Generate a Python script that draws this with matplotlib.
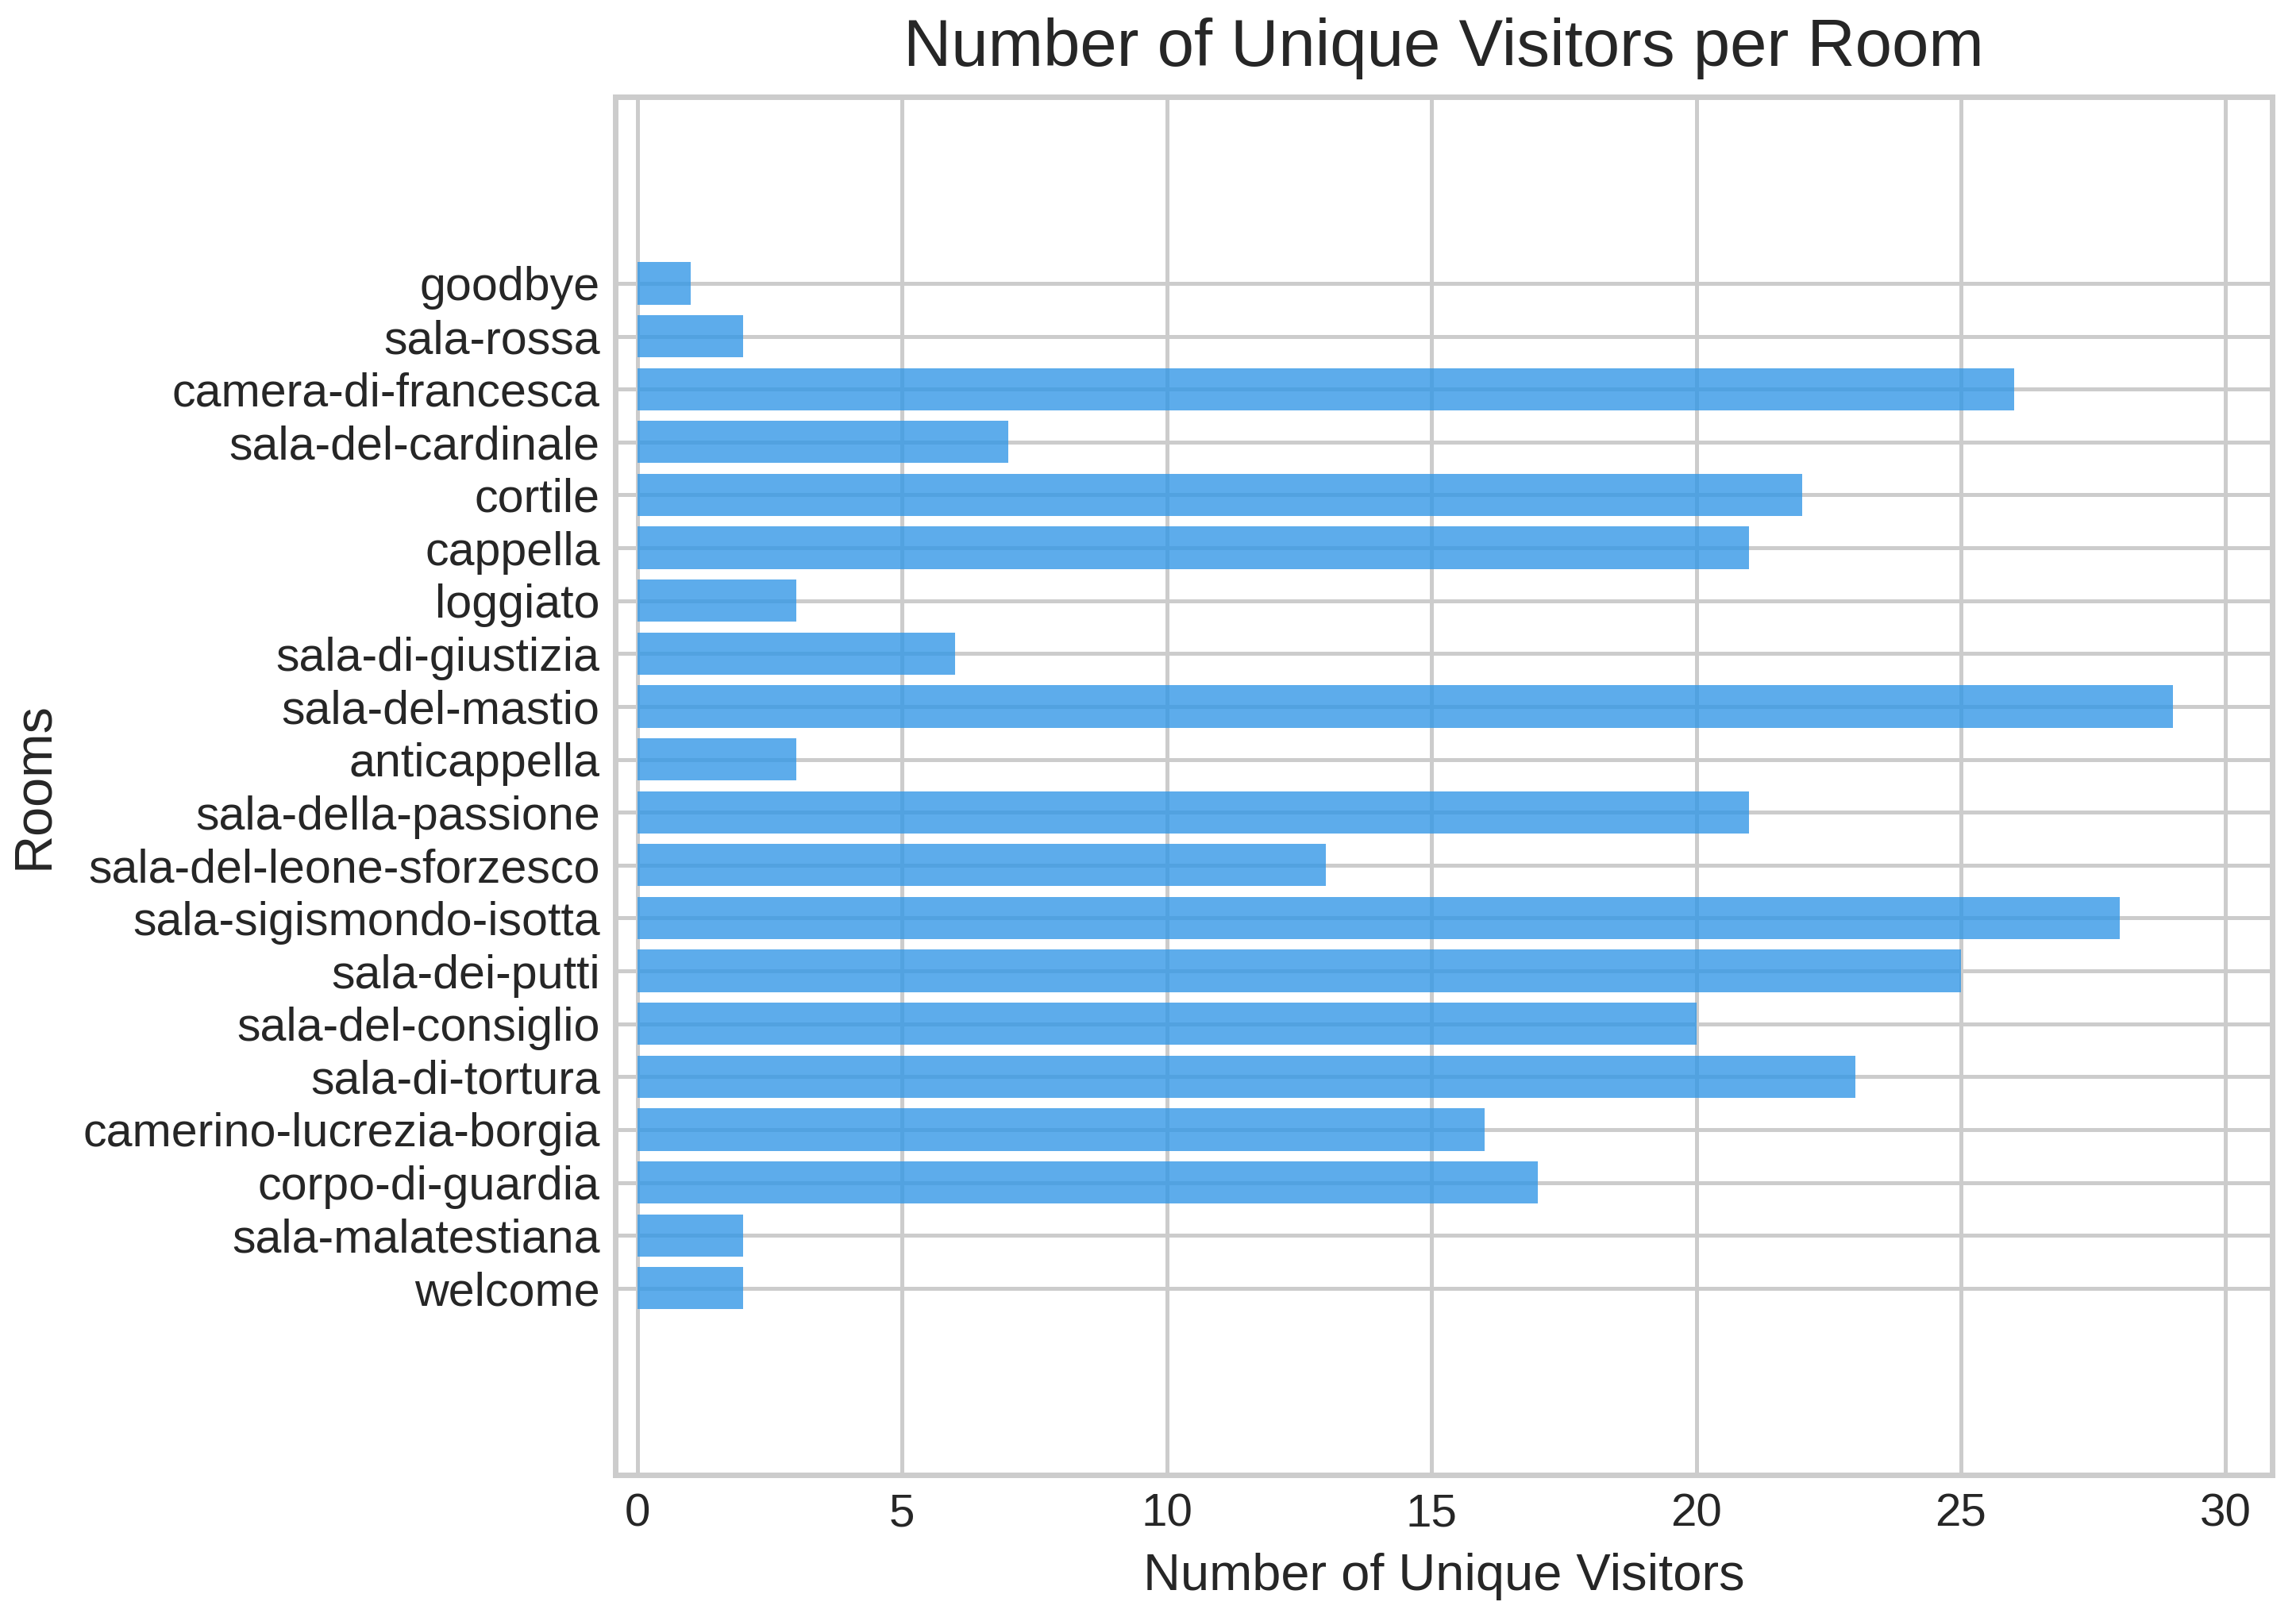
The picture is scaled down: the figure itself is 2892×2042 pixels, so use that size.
import matplotlib
matplotlib.use("Agg")
import matplotlib.pyplot as plt

rooms = ["welcome", "sala-malatestiana", "corpo-di-guardia", "camerino-lucrezia-borgia",
         "sala-di-tortura", "sala-del-consiglio", "sala-dei-putti", "sala-sigismondo-isotta",
         "sala-del-leone-sforzesco", "sala-della-passione", "anticappella", "sala-del-mastio",
         "sala-di-giustizia", "loggiato", "cappella", "cortile", "sala-del-cardinale",
         "camera-di-francesca", "sala-rossa", "goodbye"]
visitors = [2, 2, 17, 16, 23, 20, 25, 28, 13, 21, 3, 29, 6, 3, 21, 22, 7, 26, 2, 1]
xticks = [0, 5, 10, 15, 20, 25, 30]

plt.rcParams['font.family'] = ['Liberation Sans', 'DejaVu Sans']
text_color = '#262626'
grid_color = '#cccccc'

fig = plt.figure(figsize=(14.46, 10.21), dpi=200)
ax = fig.add_axes([0.268, 0.0901, 0.7216, 0.8503])
ax.set_axisbelow(True)
ax.grid(True, color=grid_color, linewidth=1.8)
ax.barh(rooms, visitors, height=0.8, color='#3498e6', alpha=0.8, zorder=2)
ax.set_xlim(-0.42, 30.88)
ax.set_ylim(-3.53, 22.53)
ax.set_xticks(xticks)
for s in ax.spines.values():
    s.set_color(grid_color)
    s.set_linewidth(2.5)
ax.tick_params(axis='x', labelsize=21, length=0, pad=8, colors=text_color)
ax.tick_params(axis='y', labelsize=21.3, length=0, pad=7, colors=text_color)
ax.set_xlabel("Number of Unique Visitors", fontsize=23.4, color=text_color, labelpad=8)
ax.set_ylabel("Rooms", fontsize=24, color=text_color, labelpad=11)
ax.set_title("Number of Unique Visitors per Room", fontsize=30, color=text_color, pad=14)
fig.savefig("out.png", dpi=200)
